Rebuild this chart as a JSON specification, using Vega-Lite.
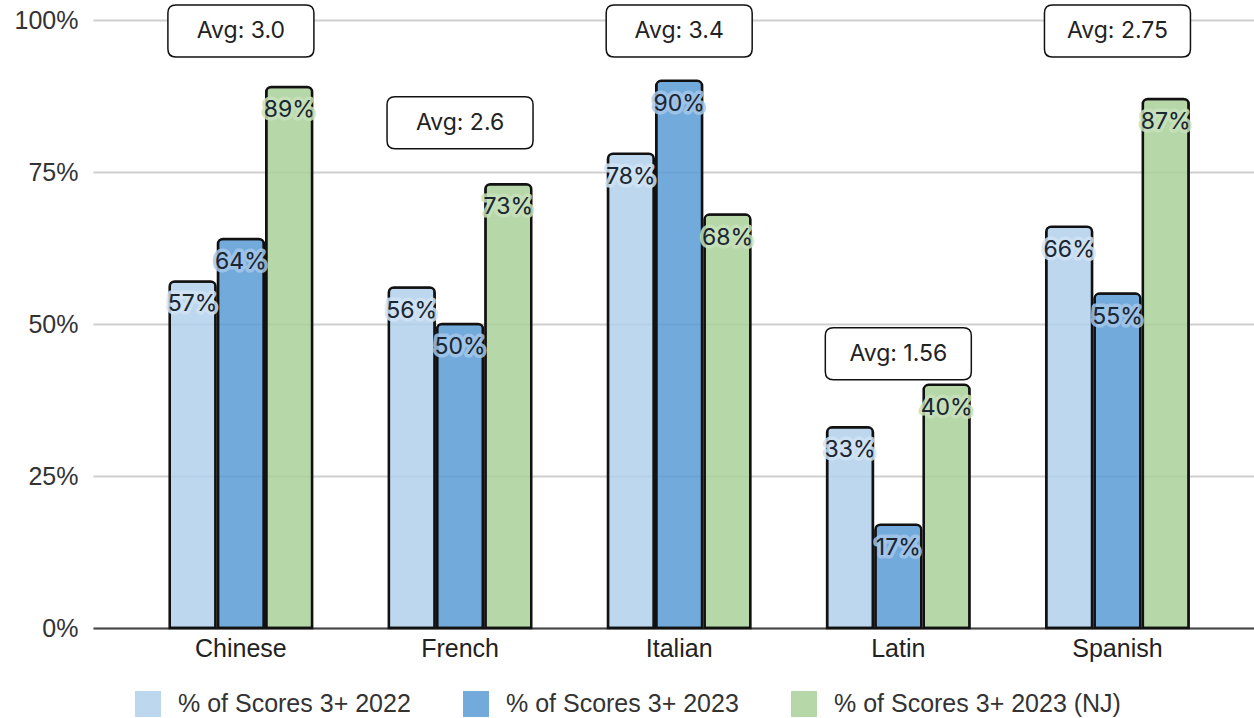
{
  "$schema": "https://vega.github.io/schema/vega-lite/v6.json",
  "width": 1161,
  "height": 608,
  "autosize": {"type": "none"},
  "padding": {"left": 93, "top": 20, "right": 0, "bottom": 90},
  "background": "white",
  "datasets": {
    "bars": [
      {"lang": "Chinese", "series": "% of Scores 3+ 2022", "value": 0.57},
      {"lang": "Chinese", "series": "% of Scores 3+ 2023", "value": 0.64},
      {"lang": "Chinese", "series": "% of Scores 3+ 2023 (NJ)", "value": 0.89},
      {"lang": "French", "series": "% of Scores 3+ 2022", "value": 0.56},
      {"lang": "French", "series": "% of Scores 3+ 2023", "value": 0.50},
      {"lang": "French", "series": "% of Scores 3+ 2023 (NJ)", "value": 0.73},
      {"lang": "Italian", "series": "% of Scores 3+ 2022", "value": 0.78},
      {"lang": "Italian", "series": "% of Scores 3+ 2023", "value": 0.90},
      {"lang": "Italian", "series": "% of Scores 3+ 2023 (NJ)", "value": 0.68},
      {"lang": "Latin", "series": "% of Scores 3+ 2022", "value": 0.33},
      {"lang": "Latin", "series": "% of Scores 3+ 2023", "value": 0.17},
      {"lang": "Latin", "series": "% of Scores 3+ 2023 (NJ)", "value": 0.40},
      {"lang": "Spanish", "series": "% of Scores 3+ 2022", "value": 0.66},
      {"lang": "Spanish", "series": "% of Scores 3+ 2023", "value": 0.55},
      {"lang": "Spanish", "series": "% of Scores 3+ 2023 (NJ)", "value": 0.87}
    ],
    "avgs": [
      {"lang": "Chinese", "avg": "Avg: 3.0", "pos": 0.982},
      {"lang": "French", "avg": "Avg: 2.6", "pos": 0.831},
      {"lang": "Italian", "avg": "Avg: 3.4", "pos": 0.982},
      {"lang": "Latin", "avg": "Avg: 1.56", "pos": 0.451},
      {"lang": "Spanish", "avg": "Avg: 2.75", "pos": 0.982}
    ]
  },
  "encoding": {
    "x": {
      "field": "lang",
      "type": "nominal",
      "sort": ["Chinese", "French", "Italian", "Latin", "Spanish"],
      "scale": {"paddingInner": 0.35, "paddingOuter": 0.324, "align": 0.54},
      "axis": {
        "title": null,
        "labelAngle": 0,
        "labelFont": "Liberation Sans",
        "labelFontSize": 25,
        "labelColor": "#222",
        "labelPadding": 8,
        "ticks": false,
        "domainColor": "#444",
        "domainWidth": 2,
        "grid": false
      }
    }
  },
  "layer": [
    {
      "data": {"name": "bars"},
      "mark": {
        "type": "bar",
        "stroke": "#111",
        "strokeWidth": 2.5,
        "fillOpacity": 0.85,
        "cornerRadiusTopLeft": 5,
        "cornerRadiusTopRight": 5
      },
      "encoding": {
        "xOffset": {"field": "series", "type": "nominal", "scale": {"paddingInner": 0.05}},
        "y": {
          "field": "value",
          "type": "quantitative",
          "scale": {"domain": [0, 1], "nice": false},
          "axis": {
            "title": null,
            "values": [0, 0.25, 0.5, 0.75, 1],
            "format": ".0%",
            "labelFont": "Liberation Sans",
            "labelFontSize": 25,
            "labelColor": "#333",
            "labelPadding": 15,
            "ticks": false,
            "domain": false,
            "gridColor": "#cfcfcf",
            "gridWidth": 2
          }
        },
        "fill": {
          "field": "series",
          "type": "nominal",
          "scale": {
            "domain": ["% of Scores 3+ 2022", "% of Scores 3+ 2023", "% of Scores 3+ 2023 (NJ)"],
            "range": ["#b1d0eb", "#5a9bd6", "#a9d099"]
          },
          "legend": {
            "title": null,
            "orient": "none",
            "legendX": 42,
            "legendY": 671,
            "direction": "horizontal",
            "columns": 3,
            "columnPadding": 52,
            "padding": 0,
            "symbolType": "square",
            "symbolSize": 676,
            "symbolStrokeWidth": 0,
            "symbolOpacity": 0.85,
            "labelFont": "Liberation Sans",
            "labelFontSize": 25,
            "labelColor": "#333",
            "labelOffset": 17,
            "labelLimit": 400
          }
        }
      }
    },
    {
      "data": {"name": "bars"},
      "mark": {
        "type": "text",
        "baseline": "middle",
        "align": "center",
        "dy": 23,
        "font": "Inter",
        "fontSize": 23,
        "strokeWidth": 7,
        "strokeJoin": "round",
        "strokeOpacity": 0.85
      },
      "encoding": {
        "xOffset": {"field": "series", "type": "nominal", "scale": {"paddingInner": 0.05}},
        "y": {"field": "value", "type": "quantitative"},
        "text": {"field": "value", "type": "quantitative", "format": ".0%"},
        "stroke": {
          "field": "series",
          "type": "nominal",
          "scale": {
            "domain": ["% of Scores 3+ 2022", "% of Scores 3+ 2023", "% of Scores 3+ 2023 (NJ)"],
            "range": ["#d2e4f5", "#a4c7ea", "#c8e2bb"]
          },
          "legend": null
        }
      }
    },
    {
      "data": {"name": "bars"},
      "mark": {
        "type": "text",
        "baseline": "middle",
        "align": "center",
        "dy": 23,
        "font": "Inter",
        "fontSize": 23,
        "color": "#1b2733"
      },
      "encoding": {
        "xOffset": {"field": "series", "type": "nominal", "scale": {"paddingInner": 0.05}},
        "y": {"field": "value", "type": "quantitative"},
        "text": {"field": "value", "type": "quantitative", "format": ".0%"}
      }
    },
    {
      "data": {"name": "avgs"},
      "mark": {
        "type": "point",
        "shape": "M-0.89,-0.356L0.89,-0.356Q1,-0.356 1,-0.246L1,0.246Q1,0.356 0.89,0.356L-0.89,0.356Q-1,0.356 -1,0.246L-1,-0.246Q-1,-0.356 -0.89,-0.356Z",
        "size": 21316,
        "filled": true,
        "fill": "white",
        "stroke": "#111",
        "strokeWidth": 1.5,
        "opacity": 1
      },
      "encoding": {
        "y": {"field": "pos", "type": "quantitative"}
      }
    },
    {
      "data": {"name": "avgs"},
      "mark": {
        "type": "text",
        "baseline": "middle",
        "align": "center",
        "font": "Inter",
        "fontSize": 23,
        "color": "#222"
      },
      "encoding": {
        "y": {"field": "pos", "type": "quantitative"},
        "text": {"field": "avg", "type": "nominal"}
      }
    }
  ],
  "config": {
    "view": {"stroke": null}
  }
}
